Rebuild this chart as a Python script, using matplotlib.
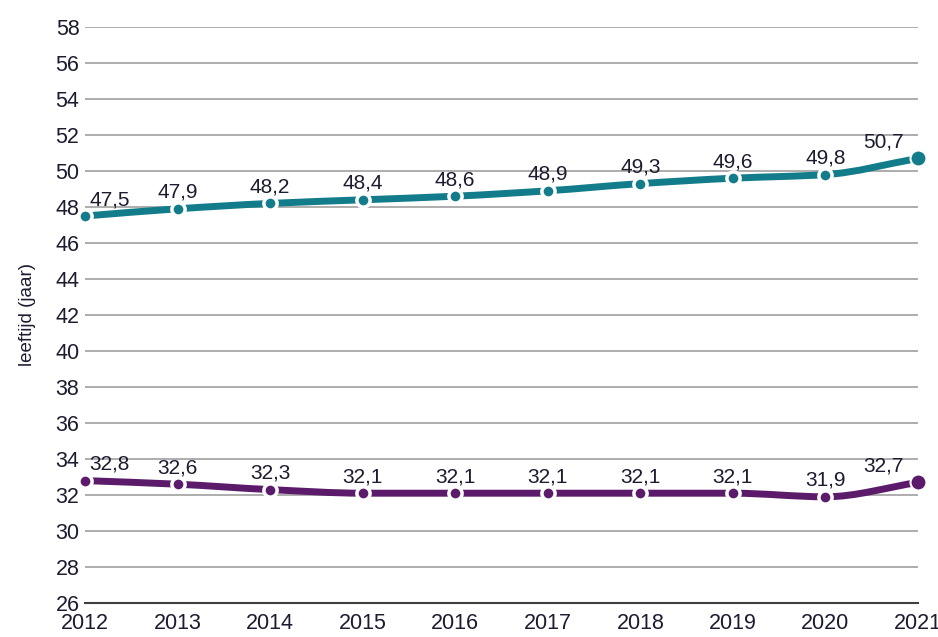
import numpy as np
import matplotlib.pyplot as plt
from matplotlib.path import Path
from matplotlib.patches import PathPatch

plt.rcParams['font.family'] = ['Liberation Sans', 'DejaVu Sans']

years = [2012, 2013, 2014, 2015, 2016, 2017, 2018, 2019, 2020, 2021]
upper = [47.5, 47.9, 48.2, 48.4, 48.6, 48.9, 49.3, 49.6, 49.8, 50.7]
lower = [32.8, 32.6, 32.3, 32.1, 32.1, 32.1, 32.1, 32.1, 31.9, 32.7]
yticks = list(range(26, 59, 2))

teal = '#127c8a'
purple = '#5b1a6a'
txt = '#1c1c30'


def monotone_path(x, y):
    # cubic bezier through the points, monotone slopes (Fritsch-Carlson)
    x = np.asarray(x, float)
    y = np.asarray(y, float)
    h = np.diff(x)
    d = np.diff(y) / h
    m = np.zeros(len(x))
    m[0] = d[0]
    m[-1] = d[-1]
    for i in range(1, len(x) - 1):
        if d[i - 1] * d[i] <= 0:
            m[i] = 0
        else:
            m[i] = 3 * (h[i - 1] + h[i]) / ((2 * h[i] + h[i - 1]) / d[i - 1] + (h[i] + 2 * h[i - 1]) / d[i])
    verts = [(x[0], y[0])]
    codes = [Path.MOVETO]
    for i in range(len(x) - 1):
        verts += [(x[i] + h[i] / 3, y[i] + m[i] * h[i] / 3),
                  (x[i + 1] - h[i] / 3, y[i + 1] - m[i + 1] * h[i] / 3),
                  (x[i + 1], y[i + 1])]
        codes += [Path.CURVE4] * 3
    return Path(verts, codes)


fig = plt.figure(figsize=(9.38, 6.37), dpi=100)
ax = fig.add_axes([85 / 938, 34 / 637, 833 / 938, 576 / 637])

for series, col in [(upper, teal), (lower, purple)]:
    ax.add_patch(PathPatch(monotone_path(years, series), facecolor='none',
                           edgecolor=col, lw=5, capstyle='round', zorder=3, clip_on=False))
    ax.plot(years[:-1], series[:-1], 'o', ms=9.5, mfc=col, mec='white', mew=2.5,
            zorder=4, clip_on=False)
    ax.plot(years[-1], series[-1], 'o', ms=11.5, mfc=col, mec='white', mew=1.5,
            zorder=4, clip_on=False)
    for i, (xv, yv) in enumerate(zip(years, series)):
        ha = 'center'
        dx = 0
        if i == 0:
            ha, dx = 'left', 3
        elif i == len(years) - 1:
            ha, dx = 'right', -10
        ax.annotate(f'{yv:.1f}'.replace('.', ','), (xv, yv), xytext=(dx, 5),
                    textcoords='offset points', ha=ha, va='bottom',
                    fontsize=15, color=txt, zorder=5)

ax.set_xlim(2012, 2021)
ax.set_ylim(26, 58)
ax.set_yticks(yticks)
ax.set_xticks(years)
ax.grid(axis='y', color='#a0a0a0', lw=1.2)
ax.set_axisbelow(True)
for s in ['top', 'right', 'left']:
    ax.spines[s].set_visible(False)
ax.spines['bottom'].set_color('#404040')
ax.spines['bottom'].set_linewidth(1.5)
ax.tick_params(axis='both', length=0, labelsize=15.5, colors=txt)
ax.tick_params(axis='y', pad=4)
ax.tick_params(axis='x', pad=7)
ax.set_ylabel('leeftijd (jaar)', fontsize=13.5, color=txt, labelpad=14)

fig.savefig('out.png', dpi=100)
